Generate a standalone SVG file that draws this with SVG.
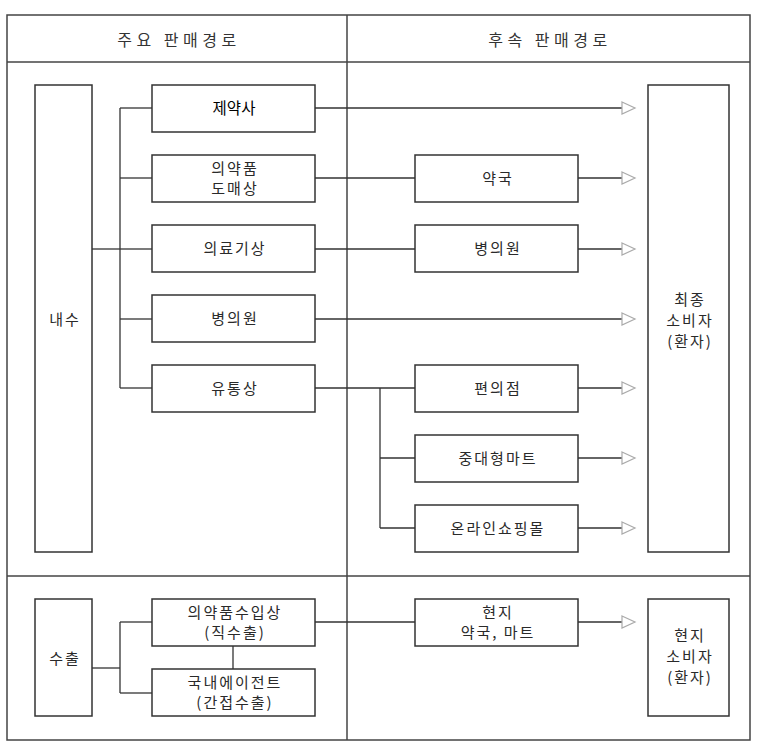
<svg xmlns="http://www.w3.org/2000/svg" width="760" height="749" viewBox="0 0 760 749">
<defs>
<marker id="tri" markerWidth="16" markerHeight="16" refX="1" refY="8" orient="auto" markerUnits="userSpaceOnUse">
<path d="M1,2 L14,8 L1,14 Z" fill="#fff" stroke="#aaa" stroke-width="1.2"/>
</marker>
</defs>
<style>
.frame{fill:none;stroke:#444;stroke-width:1.5}
.box{fill:#fff;stroke:#333;stroke-width:1.5}
.ln{fill:none;stroke:#333;stroke-width:1.3}
.t{font-family:"Noto Sans CJK KR","Noto Sans",sans-serif;font-size:15px;fill:#2a2a2a;text-anchor:middle;letter-spacing:2px}
.h{font-family:"Noto Sans CJK KR","Noto Sans",sans-serif;font-size:16px;fill:#333;text-anchor:middle;letter-spacing:4.5px}
.b{font-family:"Noto Sans CJK KR","Noto Sans",sans-serif;font-size:15.5px;fill:#000;text-anchor:middle}
</style>
<rect width="760" height="749" fill="#fff"/>
<g id="frame">
<rect class="frame" x="7" y="15" width="743" height="725"/>
<line class="frame" x1="7" y1="62" x2="750" y2="62"/>
<line class="frame" x1="347" y1="15" x2="347" y2="740"/>
<line class="frame" x1="7" y1="576" x2="750" y2="576"/>
<text class="h" x="179" y="46">주요 판매경로</text>
<text class="h" x="550" y="46">후속 판매경로</text>
</g>
<g id="connectors">
<polyline class="ln" points="92,249 120,249"/>
<line class="ln" x1="120" y1="108" x2="120" y2="388"/>
<line class="ln" x1="120" y1="108" x2="152" y2="108"/>
<line class="ln" x1="120" y1="178" x2="152" y2="178"/>
<line class="ln" x1="120" y1="249" x2="152" y2="249"/>
<line class="ln" x1="120" y1="319" x2="152" y2="319"/>
<line class="ln" x1="120" y1="388" x2="152" y2="388"/>
<line class="ln" x1="315" y1="108" x2="622" y2="108" marker-end="url(#tri)"/>
<line class="ln" x1="315" y1="178" x2="415" y2="178"/>
<line class="ln" x1="315" y1="249" x2="415" y2="249"/>
<line class="ln" x1="315" y1="319" x2="622" y2="319" marker-end="url(#tri)"/>
<line class="ln" x1="315" y1="388" x2="415" y2="388"/>
<line class="ln" x1="380" y1="388" x2="380" y2="528"/>
<line class="ln" x1="380" y1="458" x2="415" y2="458"/>
<line class="ln" x1="380" y1="528" x2="415" y2="528"/>
<line class="ln" x1="578" y1="178" x2="622" y2="178" marker-end="url(#tri)"/>
<line class="ln" x1="578" y1="249" x2="622" y2="249" marker-end="url(#tri)"/>
<line class="ln" x1="578" y1="388" x2="622" y2="388" marker-end="url(#tri)"/>
<line class="ln" x1="578" y1="458" x2="622" y2="458" marker-end="url(#tri)"/>
<line class="ln" x1="578" y1="528" x2="622" y2="528" marker-end="url(#tri)"/>
<line class="ln" x1="92" y1="668" x2="120" y2="668"/>
<line class="ln" x1="120" y1="622" x2="120" y2="693"/>
<line class="ln" x1="120" y1="622" x2="152" y2="622"/>
<line class="ln" x1="120" y1="693" x2="152" y2="693"/>
<line class="ln" x1="233" y1="646" x2="233" y2="669"/>
<line class="ln" x1="315" y1="622" x2="415" y2="622"/>
<line class="ln" x1="578" y1="622" x2="622" y2="622" marker-end="url(#tri)"/>
</g>
<g id="n-naesu"><rect class="box" x="35" y="85" width="57" height="467"/><text class="t" x="65" y="325">내수</text></g>
<g id="n-jeyaksa"><rect class="box" x="152" y="85" width="163" height="47"/><text class="b" x="234" y="114">제약사</text></g>
<g id="n-domae"><rect class="box" x="152" y="155" width="163" height="47"/><text class="t" x="235" y="174">의약품</text><text class="t" x="235" y="194">도매상</text></g>
<g id="n-uiryo"><rect class="box" x="152" y="225" width="163" height="47"/><text class="t" x="235" y="254">의료기상</text></g>
<g id="n-byeong1"><rect class="box" x="152" y="295" width="163" height="47"/><text class="t" x="235" y="324">병의원</text></g>
<g id="n-yutong"><rect class="box" x="152" y="365" width="163" height="47"/><text class="t" x="235" y="394">유통상</text></g>
<g id="n-yakguk"><rect class="box" x="415" y="155" width="163" height="47"/><text class="t" x="498" y="184">약국</text></g>
<g id="n-byeong2"><rect class="box" x="415" y="225" width="163" height="47"/><text class="t" x="498" y="254">병의원</text></g>
<g id="n-pyeon"><rect class="box" x="415" y="365" width="163" height="47"/><text class="t" x="498" y="394">편의점</text></g>
<g id="n-mart"><rect class="box" x="415" y="435" width="163" height="47"/><text class="t" x="498" y="464">중대형마트</text></g>
<g id="n-online"><rect class="box" x="415" y="505" width="163" height="47"/><text class="t" x="498" y="534">온라인쇼핑몰</text></g>
<g id="n-final"><rect class="box" x="648" y="85" width="81" height="467"/><text class="t" x="690" y="305">최종</text><text class="t" x="690" y="326">소비자</text><text class="t" x="690" y="347">(환자)</text></g>
<g id="n-suchul"><rect class="box" x="35" y="599" width="57" height="117"/><text class="t" x="65" y="664">수출</text></g>
<g id="n-suip"><rect class="box" x="152" y="599" width="163" height="47"/><text class="t" x="235" y="618">의약품수입상</text><text class="t" x="235" y="638">(직수출)</text></g>
<g id="n-agent"><rect class="box" x="152" y="669" width="163" height="47"/><text class="t" x="235" y="688">국내에이전트</text><text class="t" x="235" y="708">(간접수출)</text></g>
<g id="n-local"><rect class="box" x="415" y="599" width="163" height="47"/><text class="t" x="498" y="618">현지</text><text class="t" x="498" y="638">약국, 마트</text></g>
<g id="n-localc"><rect class="box" x="648" y="599" width="81" height="117"/><text class="t" x="690" y="641">현지</text><text class="t" x="690" y="662">소비자</text><text class="t" x="690" y="683">(환자)</text></g>
</svg>
